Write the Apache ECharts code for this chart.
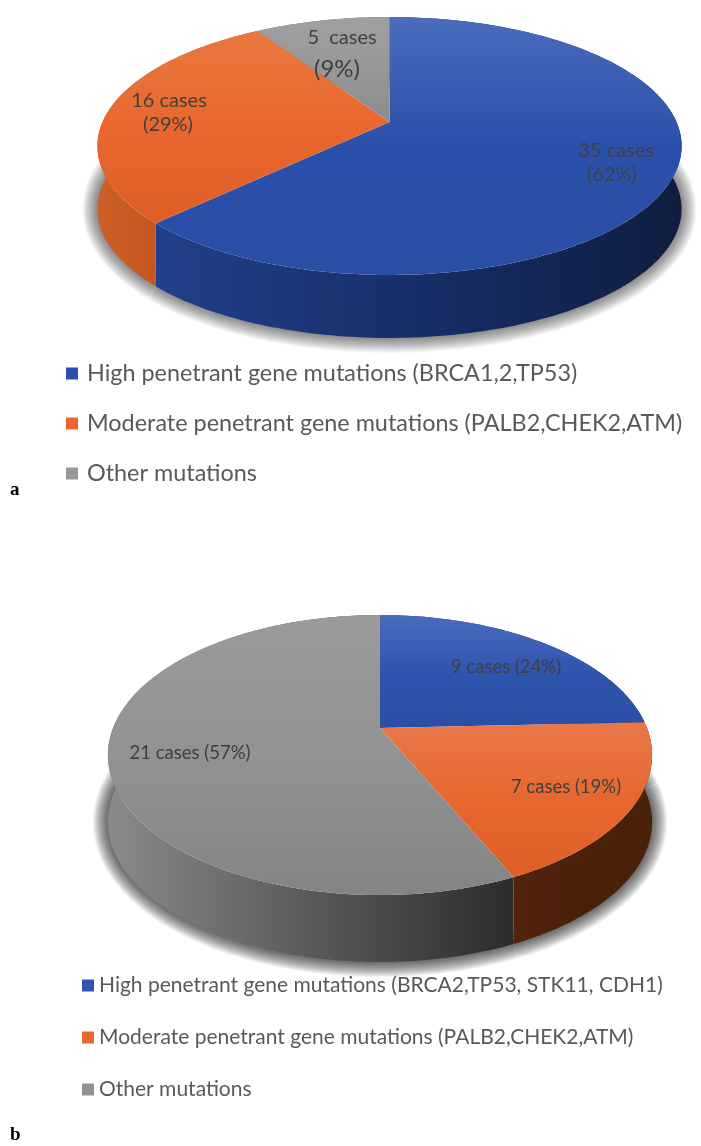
<!DOCTYPE html>
<html>
<head>
<meta charset="utf-8">
<title>Gene mutations</title>
<script src="https://cdn.jsdelivr.net/npm/echarts@6/dist/echarts.min.js"></script>
<style>
  html, body { margin: 0; padding: 0; background: #fff; }
  #main { width: 701px; height: 1146px; }
</style>
</head>
<body>
<div id="main"></div>
<script>
// panel a
const namesA = [
  'High penetrant gene mutations (BRCA1,2,TP53)',
  'Moderate penetrant gene mutations (PALB2,CHEK2,ATM)',
  'Other mutations'
];
const casesA = [35, 16, 5];
const labelsA = [['35 cases', '(62%)'], ['16 cases', '(29%)'], ['5  cases', '(9%)']];

// panel b
const namesB = [
  'High penetrant gene mutations (BRCA2,TP53, STK11, CDH1)',
  'Moderate penetrant gene mutations (PALB2,CHEK2,ATM) ',
  'Other mutations '
];
const casesB = [9, 7, 21];
const labelsB = [['9 cases (24%)'], ['7 cases (19%)'], ['21 cases (57%)']];

// colours per slice: top surface (vertical), wall (left to right)
const styleA = [
  { top: ['#4a6cbc', '#2b50ab', '#2a4ea6'], wall: ['#21408a', '#172f68', '#0f1d3f'] },
  { top: ['#e8793f', '#e9672e', '#dd5f26'], wall: ['#cf5f27', '#c0541f', '#b04a1a'] },
  { top: ['#a0a0a0', '#979797', '#8c8c8c'], wall: ['#777777', '#666666', '#555555'] }
];
const styleB = [
  { top: ['#4a6cbc', '#2f55b0', '#2a4ea6'], wall: ['#21408a', '#172f68', '#0f1d3f'] },
  { top: ['#e8784a', '#e7672f', '#dd5f26'], wall: ['#52240e', '#4a2009', '#4a2009'] },
  { top: ['#9b9b9b', '#929292', '#848484'], wall: ['#8a8a8a', '#5a5a5a', '#2c2c2c'] }
];

// k is the perspective of the disc, h the thickness of the wall
const pieA = { cx: 389.5, cy: 122, A: 124.5, B: 287, k: -0.186, h: 63, shade: 0.035 };
const pieB = { cx: 380, cy: 728, A: 134.8, B: 267, k: -0.193, h: 67, shade: 0.05 };

// soft shadow under the wall, stacked strokes
const shadowWidths = [30, 28, 26, 24, 22, 20, 18, 16, 14, 12, 10, 8, 6, 4, 2];

// label places, one [x, y, fontSize] per text line
const labelPosA = [
  [[616, 151, 20], [612, 175, 20]],
  [[169, 101, 20], [168, 125, 20]],
  [[342, 38, 20], [337, 69, 24]]
];
const labelPosB = [
  [[506, 667, 18.5]],
  [[566, 787, 18.5]],
  [[190, 753, 18.5]]
];

function rim(p, theta, drop) {
  var u = Math.sin(theta), v = -Math.cos(theta);
  var w = 1 + p.k * v;
  return [p.cx + p.B * u / w, p.cy + p.A * v / w + drop];
}

function grad(x2, y2, c) {
  return {
    type: 'linear', x: 0, y: 0, x2: x2, y2: y2,
    colorStops: [{ offset: 0, color: c[0] }, { offset: 0.5, color: c[1] }, { offset: 1, color: c[2] }]
  };
}

function sliceSeries(p, cases, names, labels, labelPos, styles, idx) {
  var total = cases.reduce(function (a, b) { return a + b; }, 0);
  var before = cases.slice(0, idx).reduce(function (a, b) { return a + b; }, 0);
  return {
    type: 'custom',
    name: names[idx],
    coordinateSystem: 'none',
    silent: true,
    itemStyle: { color: styles[idx].top[1] },
    data: [[cases[idx]]],
    renderItem: function (params, api) {
      var a0 = before / total * Math.PI * 2;
      var a1 = (before + api.value(0)) / total * Math.PI * 2;
      var n = Math.max(2, Math.ceil((a1 - a0) / 0.02));
      var edge = [], low = [];
      for (var i = 0; i <= n; i++) {
        var t = a0 + (a1 - a0) * i / n;
        edge.push(rim(p, t, 0));
        low.unshift(rim(p, t, p.h));
      }
      var wallPts = edge.concat(low);
      var children = [];
      shadowWidths.forEach(function (w) {
        children.push({
          type: 'polyline', z2: 1, shape: { points: low },
          style: { fill: null, stroke: 'rgba(0,0,0,' + p.shade + ')', lineWidth: w, lineJoin: 'round' }
        });
      });
      children.push({
        type: 'polygon', z2: 2, shape: { points: wallPts },
        style: { fill: grad(1, 0, styles[idx].wall) }
      });
      children.push({
        type: 'polygon', z2: 3, shape: { points: [[p.cx, p.cy]].concat(edge) },
        style: { fill: grad(0, 1, styles[idx].top) }
      });
      labels[idx].forEach(function (line, j) {
        var pos = labelPos[idx][j];
        children.push({
          type: 'text', z2: 4,
          style: {
            text: line, x: pos[0], y: pos[1], fill: '#404040',
            font: pos[2] + 'px Lato', textAlign: 'center', textVerticalAlign: 'middle'
          }
        });
      });
      return { type: 'group', children: children };
    }
  };
}

var series = [];
[0, 1, 2].forEach(function (i) {
  series.push(sliceSeries(pieA, casesA, namesA, labelsA, labelPosA, styleA, i));
});
[0, 1, 2].forEach(function (i) {
  series.push(sliceSeries(pieB, casesB, namesB, labelsB, labelPosB, styleB, i));
});

function legendAt(left, top, names, size, gap, textGap) {
  return {
    orient: 'vertical', left: left, top: top, data: names,
    icon: 'rect', itemWidth: 12, itemHeight: 12, itemGap: gap,
    selectedMode: false,
    textStyle: { color: '#595959', fontFamily: 'Lato', fontSize: size, padding: [0, 0, 0, textGap] }
  };
}

var myChart = echarts.init(document.getElementById('main'), null, { renderer: 'canvas' });
myChart.setOption({
  animation: false,
  backgroundColor: '#fff',
  title: [
    { text: 'a', left: 5, top: 476, textStyle: { fontFamily: 'Liberation Serif', fontWeight: 'bold', fontSize: 19, color: '#000' } },
    { text: 'b', left: 5, top: 1121, textStyle: { fontFamily: 'Liberation Serif', fontWeight: 'bold', fontSize: 19, color: '#000' } }
  ],
  legend: [
    legendAt(61, 357, namesA, 23.4, 27, 4),
    legendAt(77, 970, namesB, 21, 31, 0)
  ],
  series: series
});
</script>
</body>
</html>
